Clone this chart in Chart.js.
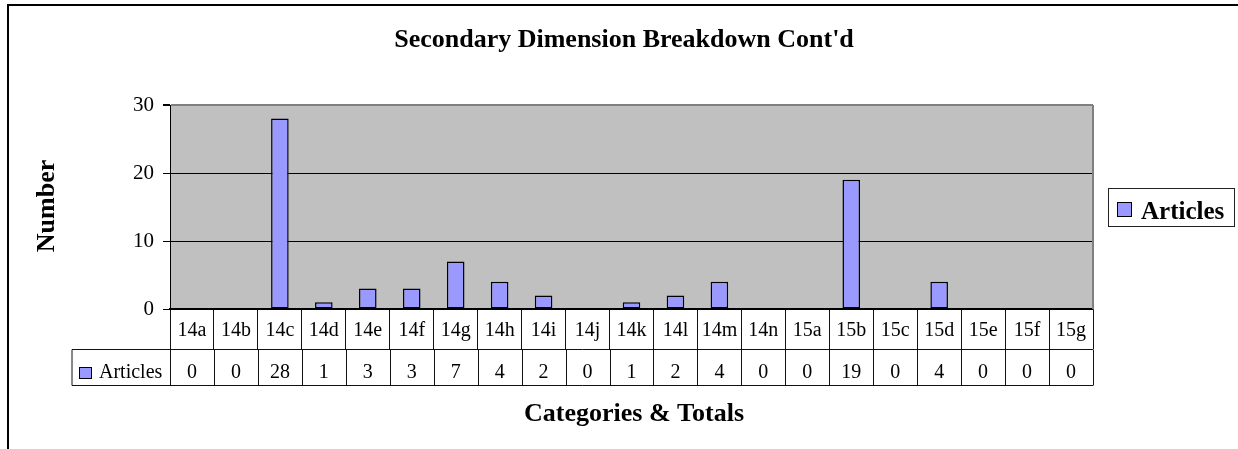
<!DOCTYPE html>
<html>
<head>
<meta charset="utf-8">
<script src="https://cdn.jsdelivr.net/npm/chart.js@4"></script>
<style>
  html, body { margin: 0; padding: 0; background: #fff; }
  #chart { display: block; }
</style>
</head>
<body>
<canvas id="chart" width="1238" height="449"></canvas>
<script>
const categories = ["14a", "14b", "14c", "14d", "14e", "14f", "14g", "14h", "14i", "14j", "14k",
  "14l", "14m", "14n", "15a", "15b", "15c", "15d", "15e", "15f", "15g"];
const articles = [0, 0, 28, 1, 3, 3, 7, 4, 2, 0, 1, 2, 4, 0, 0, 19, 0, 4, 0, 0, 0];
const seriesName = "Articles";
const titleText = "Secondary Dimension Breakdown Cont'd";
const yTitle = "Number";
const xTitle = "Categories & Totals";

const serif = "'Liberation Serif', 'Times New Roman', serif";
const barFill = "#9999FF";

// layout
const box = { left: 170, right: 1093, top: 105, bottom: 309 };
const table = { labelLeft: 72, rowTop: 349.5, rowBottom: 385.5 };

const excelBits = {
  id: "excelBits",
  beforeDraw(chart) {
    const { ctx, chartArea: a } = chart;
    ctx.save();
    ctx.fillStyle = "#C0C0C0";
    ctx.fillRect(a.left, a.top, a.right - a.left, a.bottom - a.top);
    ctx.restore();
  },
  afterDraw(chart) {
    const { ctx, chartArea: a } = chart;
    const x = chart.scales.x;
    ctx.save();

    // plot border on the right
    ctx.strokeStyle = "#808080";
    ctx.lineWidth = 2;
    ctx.beginPath();
    ctx.moveTo(a.right, a.top);
    ctx.lineTo(a.right, a.bottom);
    ctx.stroke();

    // outer chart frame (cut off at right and bottom)
    ctx.strokeStyle = "#000";
    ctx.lineWidth = 2;
    ctx.beginPath();
    ctx.moveTo(1238, 5);
    ctx.lineTo(8, 5);
    ctx.lineTo(8, 449);
    ctx.stroke();

    // data table
    ctx.strokeStyle = "#111";
    ctx.lineWidth = 1;
    ctx.beginPath();
    ctx.moveTo(table.labelLeft, table.rowTop);
    ctx.lineTo(a.right, table.rowTop);
    ctx.moveTo(table.labelLeft, table.rowBottom);
    ctx.lineTo(a.right, table.rowBottom);
    ctx.moveTo(table.labelLeft, table.rowTop);
    ctx.lineTo(table.labelLeft, table.rowBottom);
    const half = (x.getPixelForValue(1) - x.getPixelForValue(0)) / 2;
    for (let i = 0; i <= categories.length; i++) {
      const px = Math.round(x.getPixelForValue(i) - half) + 0.5;
      ctx.moveTo(px, table.rowTop);
      ctx.lineTo(px, table.rowBottom);
    }
    ctx.stroke();

    ctx.fillStyle = "#000";
    ctx.font = "20px " + serif;
    ctx.textAlign = "center";
    ctx.textBaseline = "alphabetic";
    articles.forEach((v, i) => {
      ctx.fillText(String(v), x.getPixelForValue(i), 378);
    });

    // series key in the table
    ctx.fillStyle = barFill;
    ctx.fillRect(79.5, 367.5, 12, 11);
    ctx.strokeStyle = "#000";
    ctx.strokeRect(79.5, 367.5, 12, 11);
    ctx.fillStyle = "#000";
    ctx.textAlign = "left";
    ctx.fillText(seriesName, 99, 378);

    // titles
    ctx.font = "bold 26px " + serif;
    ctx.textAlign = "center";
    ctx.fillText(titleText, 624, 47);
    ctx.fillText(xTitle, 634, 421);
    ctx.save();
    ctx.translate(54, 206);
    ctx.rotate(-Math.PI / 2);
    ctx.fillText(yTitle, 0, 0);
    ctx.restore();

    // legend
    ctx.strokeStyle = "#222";
    ctx.lineWidth = 1;
    ctx.strokeRect(1108.5, 188.5, 126, 38);
    ctx.fillStyle = barFill;
    ctx.fillRect(1117.5, 202.5, 14, 14);
    ctx.strokeStyle = "#000";
    ctx.strokeRect(1117.5, 202.5, 14, 14);
    ctx.fillStyle = "#000";
    ctx.font = "bold 25px " + serif;
    ctx.textAlign = "left";
    ctx.fillText(seriesName, 1141, 219);

    ctx.restore();
  }
};

new Chart(document.getElementById("chart"), {
  type: "bar",
  data: {
    labels: categories,
    datasets: [{
      label: seriesName,
      data: articles,
      backgroundColor: barFill,
      borderColor: "#000",
      borderWidth: 1.5,
      borderSkipped: false,
      barPercentage: 0.4,
      categoryPercentage: 1.0
    }]
  },
  options: {
    responsive: false,
    animation: false,
    devicePixelRatio: 1,
    layout: { padding: { left: 0, top: box.top, right: 1238 - box.right, bottom: 0 } },
    plugins: {
      legend: { display: false },
      title: { display: false },
      tooltip: { enabled: false }
    },
    scales: {
      y: {
        min: 0,
        max: 30,
        afterFit(scale) { scale.width = box.left; },
        ticks: {
          stepSize: 10,
          color: "#000",
          padding: 9,
          font: { family: serif, size: 21 }
        },
        grid: {
          color: (c) => (c.tick && c.tick.value === 30 ? "#808080" : "#000"),
          lineWidth: (c) => (c.tick && c.tick.value === 30 ? 2 : 1),
          tickLength: 7,
          tickColor: "#000"
        },
        border: { color: "#000", width: 1 }
      },
      x: {
        afterFit(scale) { scale.height = 449 - box.bottom; },
        ticks: {
          color: "#000",
          padding: -30,
          maxRotation: 0,
          autoSkip: false,
          font: { family: serif, size: 20 }
        },
        grid: {
          offset: true,
          drawOnChartArea: false,
          tickLength: 40,
          tickColor: "#111",
          lineWidth: 1
        },
        border: { color: "#000", width: 1.5 }
      }
    }
  },
  plugins: [excelBits]
});
</script>
</body>
</html>
